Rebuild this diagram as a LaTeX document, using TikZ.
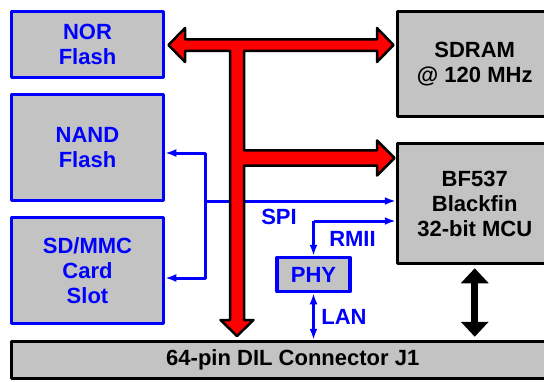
\documentclass[tikz,border=0pt]{standalone}
\usepackage{fontspec}
\setmainfont{Liberation Sans}
\usetikzlibrary{arrows.meta}
\definecolor{boxgray}{RGB}{195,195,195}

\begin{document}
\begin{tikzpicture}[x=1pt, y=-1pt, font=\fontsize{22}{25}\selectfont\bfseries, line join=round,
		>={Latex[length=11pt,width=8pt]},
		bluebox/.style={draw=blue, fill=boxgray, text=blue, line width=3.5pt, align=center, inner sep=0pt, minimum width=152pt},
		blackbox/.style={draw=black, fill=boxgray, text=black, line width=3.5pt, align=center, inner sep=0pt},
		sig/.style={draw=blue, line width=3pt},
		lbl/.style={text=blue, inner sep=0pt}]
	\useasboundingbox (0,0) rectangle (544,381);
	\clip (0,0) rectangle (544,381);

	% memories and card slot
	\node[bluebox, minimum height=66pt] (nor) at (87.5,44.5) {NOR\\Flash};
	\node[bluebox, minimum height=106pt] (nand) at (87.5,147.5) {NAND\\Flash};
	\node[bluebox, minimum height=106pt] (sdmmc) at (87.5,270.5) {SD/MMC\\Card\\Slot};
	\node[blackbox, minimum width=154.5pt, minimum height=105pt] (sdram) at (474.75,64) {SDRAM\\@ 120 MHz};
	\node[blackbox, minimum width=154.5pt, minimum height=120pt] (mcu) at (474.75,203.5) {BF537\\Blackfin\\32-bit MCU};
	\node[bluebox, minimum width=73pt, minimum height=34pt] (phy) at (313.5,274.5) {PHY};
	\node[blackbox, minimum width=562.5pt, minimum height=37pt] (conn) at (292.75,360) {64-pin DIL Connector J1};

	\path
		(205,201) coordinate (split)
		(313.5,221) coordinate (rmii)
	;

	% SPI and RMII
	\draw[sig, ->] (split) |- ([yshift=-5.5pt]nand.east);
	\draw[sig, ->] (split) |- ([yshift=-7.5pt]sdmmc.east);
	\draw[sig, ->] (split) -- (split -| mcu.west);
	\draw[sig, ->] (rmii) -- (rmii -| mcu.west);
	\draw[sig, ->] (rmii) -- (phy.north);
	\draw[sig, <->] (phy.south) -- (phy.south |- conn.north);

	\node[lbl] (spilbl) at (279,217) {SPI};
	\node[lbl] (rmiilbl) at (352.5,238.5) {RMII};
	\node[lbl] (lanlbl) at (344,317) {LAN};

	% MCU to connector
	\draw[line width=7pt, {Triangle[width=27pt,length=15pt]}-{Triangle[width=27pt,length=15pt]}, shorten <=3pt, shorten >=3pt]
		(mcu.south) -- (mcu.south |- conn.north);

	% parallel bus
	\draw[fill=red, draw=black, line width=2.5pt]
		(168.5,45) -- (185,28) -- (185,39.25) -- (377,39.25) -- (377,28) -- (393.5,45)
		-- (377,62) -- (377,50.75) -- (244,50.75) -- (244,150.25) -- (377,150.25)
		-- (377,140.5) -- (394.5,158) -- (377,175.5) -- (377,165.5) -- (244,165.5)
		-- (244,320) -- (253.5,320) -- (237,336) -- (220.5,320) -- (230,320)
		-- (230,50.75) -- (185,50.75) -- (185,62) -- cycle;

\end{tikzpicture}
\end{document}
